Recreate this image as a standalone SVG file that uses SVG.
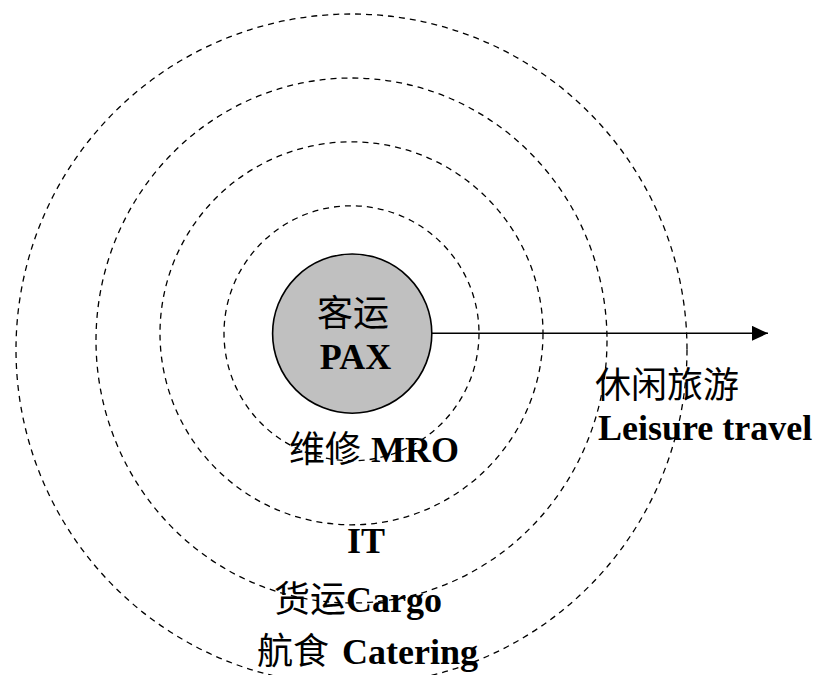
<svg xmlns="http://www.w3.org/2000/svg" width="822" height="675" viewBox="0 0 822 675">
  <style>
    .ring { fill: none; stroke: #000; stroke-width: 1.3; stroke-dasharray: 6 5; }
    .core { fill: #c0c0c0; stroke: #000; stroke-width: 1.6; }
    .conn { stroke: #000; stroke-width: 1.6; fill: none; }
    .zh { font-family: "Noto Sans CJK SC", "Liberation Serif", serif; font-size: 36px; font-weight: normal; fill: #000; }
    .en { font-family: "Liberation Serif", "Times New Roman", serif; font-size: 36px; font-weight: bold; fill: #000; }
  </style>
  <defs>
    <marker id="arrow" viewBox="0 0 16 15" refX="16" refY="7.5" markerWidth="16" markerHeight="15" markerUnits="userSpaceOnUse" orient="auto">
      <path d="M0,0 L16,7.5 L0,15 Z" fill="#000"/>
    </marker>
  </defs>
  <rect x="0" y="0" width="822" height="675" fill="#fff"/>

  <g id="rings">
    <circle id="ring-outer" class="ring" cx="351.5" cy="349.5" r="335.5"/>
    <ellipse id="ring-3" class="ring" cx="351.5" cy="340.5" rx="255.5" ry="262.5"/>
    <circle id="ring-2" class="ring" cx="351.5" cy="333.3" r="191.5"/>
    <circle id="ring-1" class="ring" cx="351.5" cy="333.3" r="127.5"/>
  </g>

  <g id="connectors">
    <line class="conn" x1="432" y1="333.3" x2="768" y2="333.3" marker-end="url(#arrow)"/>
  </g>

  <g id="node-pax">
    <circle class="core" cx="352.2" cy="333.6" r="79.6"/>
    <text class="zh" x="317" y="325.5">客运</text>
    <text class="en" x="355.5" y="369" text-anchor="middle">PAX</text>
  </g>

  <g id="node-mro">
    <text y="462"><tspan class="zh" x="289">维修</tspan><tspan class="en" x="371">MRO</tspan></text>
  </g>

  <g id="node-it">
    <text class="en" x="347" y="553">IT</text>
  </g>

  <g id="node-cargo">
    <text y="612"><tspan class="zh" x="274">货运</tspan><tspan class="en" x="346">Cargo</tspan></text>
  </g>

  <g id="node-catering">
    <text y="664"><tspan class="zh" x="257">航食</tspan><tspan class="en" x="342">Catering</tspan></text>
  </g>

  <g id="node-leisure">
    <text class="zh" x="595" y="397.5">休闲旅游</text>
    <text class="en" x="598" y="440">Leisure travel</text>
  </g>
</svg>
